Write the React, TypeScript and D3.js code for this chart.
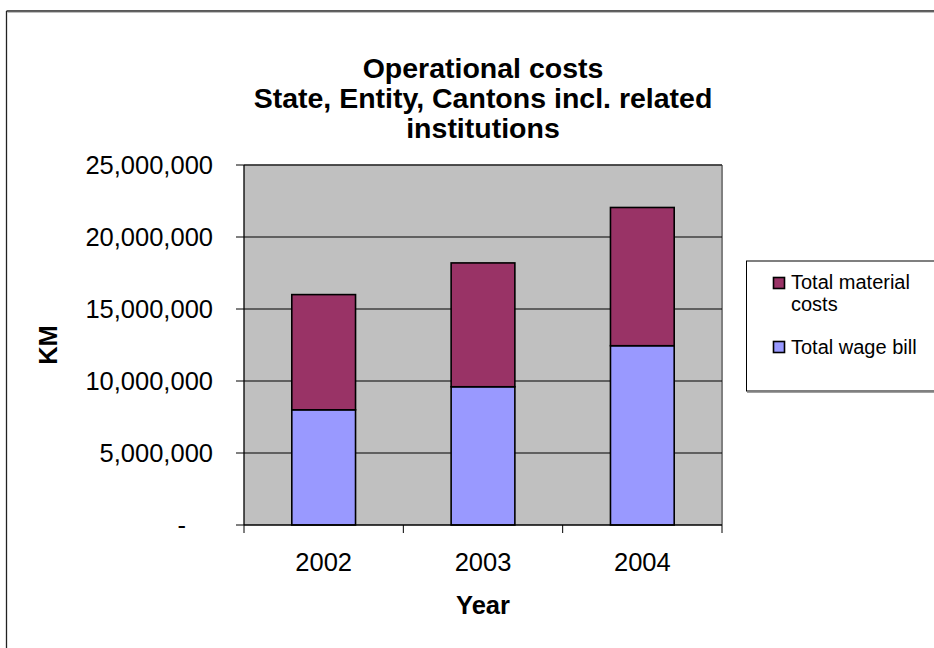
import React from "react";
import * as d3 from "d3";

// Operational costs by year (KM)
const years = ["2002", "2003", "2004"];
const wageBill = [8000000, 9600000, 12450000];
const materialCosts = [8000000, 8600000, 9600000];
const yTicks = [0, 5000000, 10000000, 15000000, 20000000, 25000000];
const seriesNames = ["Total material costs", "Total wage bill"];
const titleLines = ["Operational costs", "State, Entity, Cantons incl. related", "institutions"];

const W = 934;
const H = 648;
const plot = { left: 244, right: 722, top: 165, bottom: 525 };
const FONT = "'Liberation Sans', Arial, sans-serif";
const MATERIAL = "#993366";
const WAGE = "#9999FF";

export default function App() {
  const x = d3
    .scaleBand<string>()
    .domain(years)
    .range([plot.left, plot.right])
    .paddingInner(0.6)
    .paddingOuter(0.3);
  const y = d3.scaleLinear().domain([0, 25000000]).range([plot.bottom, plot.top]);
  const fmt = d3.format(",");
  const step = x.step();
  const boundaries = d3.range(years.length + 1).map((i) => plot.left + i * step);
  const cx = (plot.left + plot.right) / 2;

  const stack = d3
    .stack<{ year: string; wage: number; material: number }>()
    .keys(["wage", "material"]);
  const rows = years.map((yr, i) => ({ year: yr, wage: wageBill[i], material: materialCosts[i] }));
  const layers = stack(rows);
  const colors: Record<string, string> = { wage: WAGE, material: MATERIAL };

  return (
    <svg
      width={W}
      height={H}
      style={{ position: "absolute", left: 0, top: 0, background: "#fff" }}
      fontFamily={FONT}
    >
      {/* chart frame */}
      <line x1={6.5} y1={11} x2={W + 2} y2={11} stroke="#222" strokeWidth={1.3} />
      <line x1={6.5} y1={11} x2={6.5} y2={H + 2} stroke="#222" strokeWidth={1.3} />
      <line x1={7.5} y1={12.3} x2={W + 2} y2={12.3} stroke="#999" strokeWidth={0.8} />

      {/* title */}
      {titleLines.map((t, i) => (
        <text
          key={t}
          x={cx}
          y={78 + i * 30}
          textAnchor="middle"
          fontWeight="bold"
          fontSize={28.5}
          fill="#000"
        >
          {t}
        </text>
      ))}

      {/* plot background */}
      <rect
        x={plot.left}
        y={plot.top}
        width={plot.right - plot.left}
        height={plot.bottom - plot.top}
        fill="#C0C0C0"
      />
      <line x1={plot.left} y1={plot.top} x2={plot.right} y2={plot.top} stroke="#808080" strokeWidth={1.5} />
      <line x1={plot.right} y1={plot.top} x2={plot.right} y2={plot.bottom} stroke="#808080" strokeWidth={2} />

      {/* gridlines */}
      {yTicks.slice(1).map((t) => (
        <line key={t} x1={plot.left} x2={plot.right} y1={y(t)} y2={y(t)} stroke="#000" strokeWidth={1} />
      ))}

      {/* bars */}
      {layers.map((layer) =>
        layer.map((d, i) => (
          <rect
            key={layer.key + i}
            x={x(years[i])!}
            y={y(d[1])}
            width={x.bandwidth()}
            height={y(d[0]) - y(d[1])}
            fill={colors[layer.key]}
            stroke="#000"
            strokeWidth={1.6}
          />
        ))
      )}

      {/* y axis */}
      <line x1={plot.left} y1={plot.top} x2={plot.left} y2={plot.bottom} stroke="#000" strokeWidth={1.3} />
      {yTicks.map((t) => (
        <g key={t}>
          <line x1={plot.left - 8} x2={plot.left} y1={y(t)} y2={y(t)} stroke="#000" strokeWidth={1} />
          <text
            x={t === 0 ? 186 : 213}
            y={y(t)}
            dy="0.35em"
            textAnchor="end"
            fontSize={25.5}
            fill="#000"
          >
            {t === 0 ? "-" : fmt(t)}
          </text>
        </g>
      ))}

      {/* x axis */}
      <line x1={plot.left} y1={plot.bottom} x2={plot.right} y2={plot.bottom} stroke="#000" strokeWidth={1.3} />
      {boundaries.map((b, i) => (
        <line key={i} x1={b} x2={b} y1={plot.bottom} y2={plot.bottom + 8} stroke="#000" strokeWidth={1} />
      ))}
      {years.map((yr) => (
        <text
          key={yr}
          x={x(yr)! + x.bandwidth() / 2}
          y={571}
          textAnchor="middle"
          fontSize={25.5}
          fill="#000"
        >
          {yr}
        </text>
      ))}

      {/* axis titles */}
      <text x={cx} y={614} textAnchor="middle" fontWeight="bold" fontSize={25.5} fill="#000">
        Year
      </text>
      <text
        transform={`translate(57, ${(plot.top + plot.bottom) / 2}) rotate(-90)`}
        textAnchor="middle"
        fontWeight="bold"
        fontSize={25.5}
        fill="#000"
      >
        KM
      </text>

      {/* legend */}
      <rect x={746.5} y={261} width={W} height={130} fill="#fff" stroke="#000" strokeWidth={1} />
      <line x1={747} y1={392} x2={W + 2} y2={392} stroke="#808080" strokeWidth={1.5} />
      {[MATERIAL, WAGE].map((c, i) => (
        <rect
          key={c}
          x={773.5}
          y={i === 0 ? 277.5 : 341.5}
          width={11}
          height={11}
          fill={c}
          stroke="#000"
          strokeWidth={1.6}
        />
      ))}
      <text x={791} y={289} fontSize={20} fill="#000">
        Total material
      </text>
      <text x={791} y={311} fontSize={20} fill="#000">
        costs
      </text>
      <text x={791} y={354} fontSize={20} fill="#000">
        {seriesNames[1]}
      </text>
    </svg>
  );
}
